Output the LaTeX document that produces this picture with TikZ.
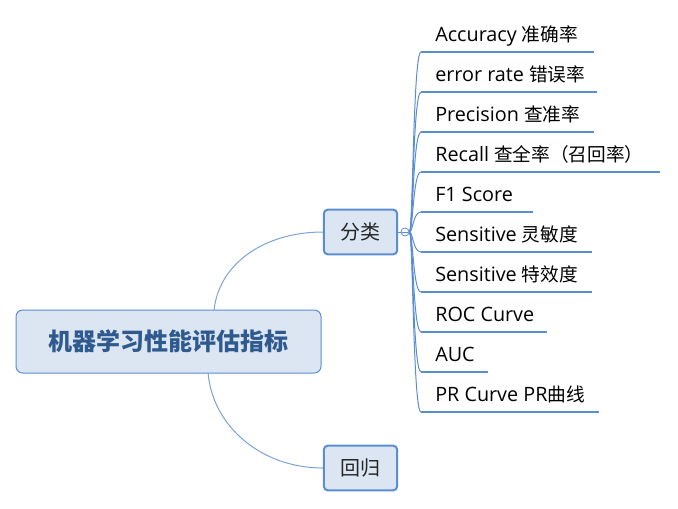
\documentclass[tikz,border=0pt]{standalone}
\usepackage{fontspec}
\setmainfont{Open Sans}[Scale=1.06]
\newfontfamily\cjk{Noto Sans CJK SC}
\newcommand{\zh}[1]{{\cjk #1}}
\definecolor{lineblue}{HTML}{5B8DD2}
\definecolor{curveblue}{HTML}{7BA3D8}
\definecolor{boxfill}{HTML}{DCE6F2}
\definecolor{titleblue}{HTML}{2F5A8F}
\tikzset{
  rootbox/.style={draw=lineblue, fill=boxfill, rounded corners=5pt, line width=0.75pt,
    minimum width=228.75pt, minimum height=47.25pt, inner sep=0pt,
    font=\cjk\bfseries\fontsize{18pt}{20pt}\selectfont, text=titleblue},
  childbox/.style={draw=lineblue, fill=boxfill, rounded corners=3pt, line width=1.5pt,
    minimum width=55pt, minimum height=33.5pt, inner sep=0pt,
    font=\cjk\fontsize{15pt}{17pt}\selectfont, text=black!85},
  leaftext/.style={anchor=base west, inner sep=0pt, font=\fontsize{14pt}{16pt}\selectfont, text=black},
  uline/.style={draw=lineblue, line width=1.9pt},
  thinlink/.style={draw=lineblue, line width=0.75pt},
  biglink/.style={draw=curveblue, line width=0.75pt},
}
\begin{document}
\begin{tikzpicture}[x=0.75pt, y=-0.75pt]
\useasboundingbox (0,0) rectangle (678,508);
% root and children
\coordinate (r1) at (214,311);
\coordinate (r2) at (208,372);
\draw[biglink] (r1) .. controls (218,265) and (263,232) .. (323,232);
\draw[biglink] (r2) .. controls (212,425) and (260,468) .. (323,468);
\node[rootbox] (root) at (168.5,341.5) {机器学习性能评估指标};
\node[childbox] (c1) at (360.5,232) {分类};
\node[childbox] (c2) at (360.5,468) {回归};
% collapse marker
\node[circle, draw=lineblue, fill=white, line width=0.6pt, inner sep=0pt, minimum size=6pt] (col) at (405,232) {};
\draw[thinlink] (c1.east) -- (col.west);
\draw[draw=lineblue, line width=0.6pt] ([xshift=1.3pt]col.west) -- ([xshift=-1.3pt]col.east);
% leaves
\foreach \i/\y/\r/\t in {
  1/52/594/{Accuracy \zh{准确率}},
  2/92/597/{error rate \zh{错误率}},
  3/132/594/{Precision \zh{查准率}},
  4/172/660/{Recall \zh{查全率（召回率）}},
  5/212/533/{F1 Score},
  6/252/592/{Sensitive \zh{灵敏度}},
  7/292/592/{Sensitive \zh{特效度}},
  8/332/547/{ROC Curve},
  9/372/488/{AUC},
  10/412/599/{PR Curve PR\zh{曲线}}}{
  \coordinate (us\i) at (421,\y);
  \coordinate (ue\i) at (\r,\y);
  \node[leaftext] (l\i) at (435,\y-10.5) {\t};
  \draw[uline] (us\i) -- (ue\i);
  \draw[thinlink] (col.east) .. controls (413,232) and (413,\y) .. (us\i);
}
\end{tikzpicture}
\end{document}
